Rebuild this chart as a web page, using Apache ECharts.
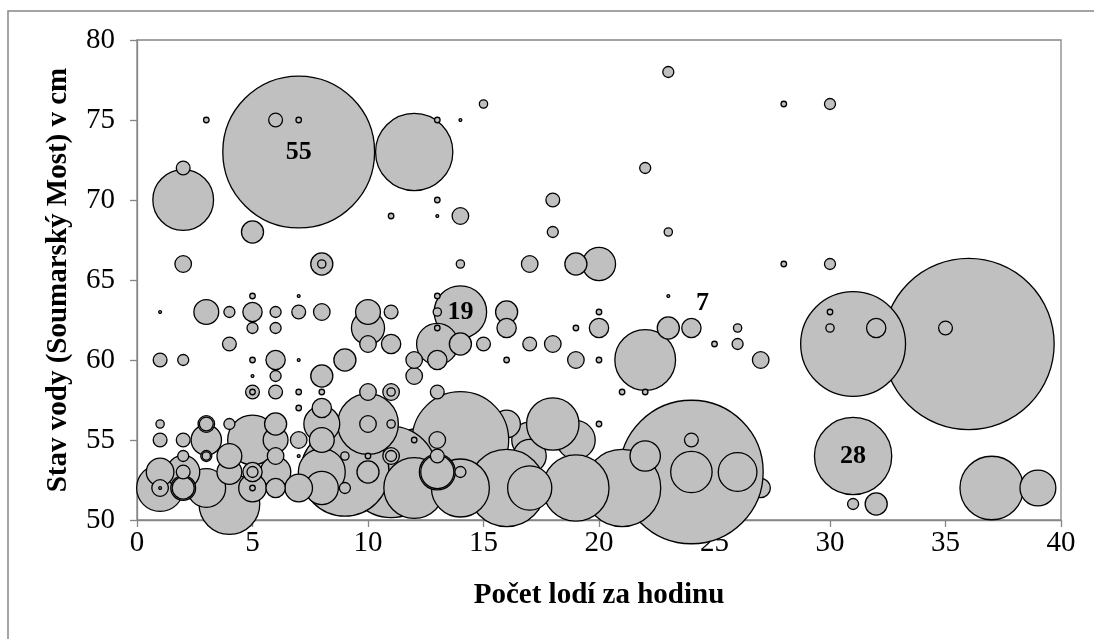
<!DOCTYPE html>
<html>
<head>
<meta charset="utf-8">
<script src="https://cdn.jsdelivr.net/npm/echarts@6/dist/echarts.min.js"></script>
<style>
  html, body { margin: 0; padding: 0; background: #fff; }
  #chart { width: 1094px; height: 639px; }
</style>
</head>
<body>
<div id="chart"></div>
<script>
// Boats per hour (x), water level at Soumarský Most in cm (y), number of observations (bubble size)
const bubbles = [
  [1,52,17],[1,53,10],[1,52,6],[1,52,1],[1,55,5],[1,56,3],[1,60,5],[1,63,1],
  [2,52,9],[2,52,8],[2,53,12],[2,53,5],[2,54,4],[2,55,5],[2,60,4],[2,66,6],[2,70,22],[2,72,5],
  [3,52,14],[3,54,4],[3,54,3],[3,55,11],[3,56,6],[3,56,5],[3,63,9],[3,75,2],
  [4,51,22],[4,53,9],[4,54,9],[4,56,4],[4,61,5],[4,63,4],
  [5,52,10],[5,52,2],[5,53,7],[5,53,4],[5,55,18],[5,58,5],[5,58,2],[5,59,1],[5,60,2],[5,62,4],[5,63,7],[5,64,2],[5,68,8],
  [6,52,7],[6,53,11],[6,54,6],[6,55,9],[6,56,8],[6,58,5],[6,59,4],[6,60,7],[6,62,4],[6,63,4],[6,75,5],
  [7,52,10],[7,54,1],[7,55,6],[7,57,2],[7,58,2],[7,60,1],[7,63,5],[7,64,1],[7,73,55],[7,75,2],
  [8,52,12],[8,53,17],[8,55,9],[8,56,13],[8,57,7],[8,58,2],[8,59,8],[8,63,6],[8,66,8],[8,66,3],
  [9,52,4],[9,53,32],[9,54,3],[9,60,8],
  [10,53,8],[10,54,2],[10,56,22],[10,56,6],[10,58,6],[10,61,6],[10,62,12],[10,63,9],
  [11,53,33],[11,54,6],[11,54,4],[11,56,3],[11,58,6],[11,58,3],[11,61,7],[11,63,5],[11,69,2],
  [12,52,22],[12,55,2],[12,59,6],[12,60,6],[12,73,28],
  [13,53,13],[13,53,12],[13,54,5],[13,55,6],[13,58,5],[13,60,7],[13,61,15],[13,62,2],[13,63,3],[13,64,2],[13,69,1],[13,70,2],[13,75,2],
  [14,52,21],[14,53,4],[14,55,35],[14,61,8],[14,63,19],[14,66,3],[14,69,6],[14,75,1],
  [15,61,5],[15,76,3],
  [16,52,28],[16,60,2],[16,62,7],[16,63,8],
  [17,52,16],[17,61,5],[17,66,6],
  [18,56,19],[18,61,6],[18,68,4],[18,70,5],
  [19,52,24],[19,60,6],[19,62,2],[19,66,8],
  [20,56,2],[20,60,2],[20,62,7],[20,63,2],[20,66,12],
  [21,52,28],[21,58,2],
  [22,54,11],[22,58,2],[22,60,22],[22,72,4],
  [23,62,8],[23,64,1],[23,68,3],[23,78,4],
  [24,53,52],[24,53,15],[24,55,5],[24,62,7],
  [25,61,2],
  [26,53,14],[26,61,4],[26,62,3],
  [27,60,6],
  [28,66,2],[28,76,2],
  [30,62,3],[30,63,2],[30,66,4],[30,76,4],
  [31,51,4],[31,54,28],[31,61,38],
  [32,51,8],[32,62,7],
  [35,62,5],
  [36,61,62],
  [37,52,23],
  [39,52,13]
];

// Bubbles that sit underneath their neighbours in the stack
const backLayer = [
  [9,55,10],[12,55,8],[15,56,8],[16,56,10],[17,55,13],[17,54,12],[19,55,14],[20,52,14],[27,52,7]
];

// Bubbles whose count is printed on them: [x, y, size, label offset]
const labeled = [
  [7, 73, 55, [0, 0]],
  [14, 63, 19, [0, 0]],
  [24, 62, 7, [11, -25]],
  [31, 54, 28, [0, 0]]
];

const xTicks = { min: 0, max: 40, step: 5 };
const yTicks = { min: 50, max: 80, step: 5 };

const PX_PER_UNIT = 2.76; // bubble diameter per observation
const GRAY = '#868686';
const SERIF = '"Liberation Serif", "Times New Roman", serif';

// larger bubbles first so smaller ones stay visible on top
const bySize = (a, b) => b[2] - a[2];
const ordered = backLayer.slice().sort(bySize).concat(bubbles.slice().sort(bySize));
const seriesData = ordered.map(p => {
  const lab = labeled.find(l => l[0] === p[0] && l[1] === p[1] && l[2] === p[2]);
  const item = { value: p };
  if (lab) {
    item.label = {
      show: true,
      position: 'inside',
      offset: lab[3],
      formatter: q => String(q.value[2])
    };
  }
  return item;
});

const chart = echarts.init(document.getElementById('chart'), null, { renderer: 'canvas' });
chart.setOption({
  animation: false,
  backgroundColor: '#fff',
  grid: {
    left: 137, top: 40, width: 924, height: 480,
    show: true, borderColor: GRAY, borderWidth: 1.3, backgroundColor: 'transparent'
  },
  xAxis: {
    type: 'value', min: xTicks.min, max: xTicks.max, interval: xTicks.step,
    name: 'Počet lodí za hodinu', nameLocation: 'middle', nameGap: 61,
    nameTextStyle: { fontFamily: SERIF, fontWeight: 'bold', fontSize: 29, color: '#000' },
    axisLine: { show: true, lineStyle: { color: GRAY, width: 1.3 } },
    axisTick: { show: true, inside: false, length: 7, lineStyle: { color: GRAY, width: 1.3 } },
    axisLabel: { fontFamily: SERIF, fontSize: 29, color: '#000', margin: 9 },
    splitLine: { show: false }
  },
  yAxis: {
    type: 'value', min: yTicks.min, max: yTicks.max, interval: yTicks.step,
    name: 'Stav vody (Soumarský Most) v cm', nameLocation: 'middle', nameGap: 64,
    nameTextStyle: { fontFamily: SERIF, fontWeight: 'bold', fontSize: 29, color: '#000' },
    axisLine: { show: true, lineStyle: { color: GRAY, width: 1.3 } },
    axisTick: { show: true, inside: false, length: 7, lineStyle: { color: GRAY, width: 1.3 } },
    axisLabel: { fontFamily: SERIF, fontSize: 29, color: '#000', margin: 22 },
    splitLine: { show: false }
  },
  graphic: [{
    type: 'rect', silent: true, z: -1,
    shape: { x: 8, y: 11, width: 1200, height: 800 },
    style: { fill: 'none', stroke: GRAY, lineWidth: 1.5 }
  }],
  series: [{
    type: 'scatter',
    data: seriesData,
    symbol: 'circle',
    symbolSize: v => v[2] * PX_PER_UNIT,
    itemStyle: { color: '#c0c0c0', borderColor: '#000', borderWidth: 1.3, opacity: 1 },
    label: {
      show: false,
      fontFamily: SERIF, fontWeight: 'bold', fontSize: 26, color: '#000'
    },
    emphasis: { disabled: true }
  }]
});
</script>
</body>
</html>
